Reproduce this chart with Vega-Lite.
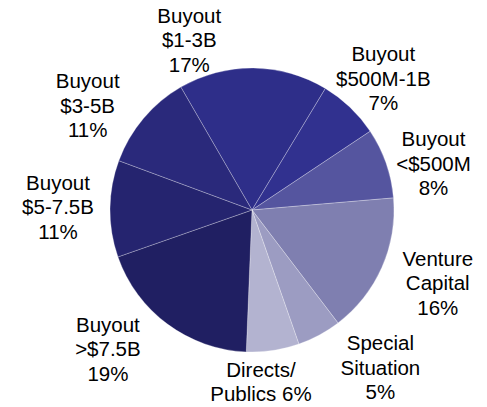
{
  "$schema": "https://vega.github.io/schema/vega-lite/v6.json",
  "width": 470,
  "height": 394,
  "padding": {"left": 17, "top": 13, "right": 0, "bottom": 0},
  "autosize": "none",
  "background": "white",
  "config": {"view": {"stroke": null}},
  "data": {
    "values": [
      {"idx": 1, "cat": "Buyout $1-3B", "value": 17, "label": "Buyout\n$1-3B\n17%"},
      {"idx": 2, "cat": "Buyout $500M-1B", "value": 7, "label": "Buyout\n$500M-1B\n7%"},
      {"idx": 3, "cat": "Buyout <$500M", "value": 8, "label": "Buyout\n<$500M\n8%"},
      {"idx": 4, "cat": "Venture Capital", "value": 16, "label": "Venture\nCapital\n16%"},
      {"idx": 5, "cat": "Special Situation", "value": 5, "label": "Special\nSituation\n5%"},
      {"idx": 6, "cat": "Directs/Publics", "value": 6, "label": "Directs/\nPublics 6%"},
      {"idx": 7, "cat": "Buyout >$7.5B", "value": 19, "label": "Buyout\n>$7.5B\n19%"},
      {"idx": 8, "cat": "Buyout $5-7.5B", "value": 11, "label": "Buyout\n$5-7.5B\n11%"},
      {"idx": 9, "cat": "Buyout $3-5B", "value": 11, "label": "Buyout\n$3-5B\n11%"}
    ]
  },
  "encoding": {
    "theta": {"field": "value", "type": "quantitative", "stack": true, "scale": {"range": [-0.525, 5.7582]}},
    "order": {"field": "idx", "type": "quantitative"}
  },
  "layer": [
    {
      "mark": {"type": "arc", "radius": 142, "stroke": "#ffffff", "strokeWidth": 0.6, "strokeOpacity": 0.45},
      "encoding": {
        "color": {
          "field": "cat",
          "type": "nominal",
          "legend": null,
          "scale": {
            "domain": ["Buyout $1-3B", "Buyout $500M-1B", "Buyout <$500M", "Venture Capital", "Special Situation", "Directs/Publics", "Buyout >$7.5B", "Buyout $5-7.5B", "Buyout $3-5B"],
            "range": ["#2e2e89", "#31318f", "#55559f", "#7f7fb0", "#9c9cc2", "#b3b3d0", "#201f62", "#25246f", "#2a297b"]
          }
        }
      }
    },
    {
      "mark": {"type": "text", "radius": 194, "dy": -24.5, "font": "Liberation Sans", "fontSize": 20.5, "lineHeight": 24.5, "lineBreak": "\n", "fill": "#000000", "baseline": "middle", "align": "center"},
      "encoding": {"text": {"condition": {"test": "datum.cat === 'Buyout $5-7.5B'", "field": "label"}, "value": ""}}
    },
    {
      "mark": {"type": "text", "radius": 185, "thetaOffset": 0.026, "dy": -24.5, "font": "Liberation Sans", "fontSize": 20.5, "lineHeight": 24.5, "lineBreak": "\n", "fill": "#000000", "baseline": "middle", "align": "center"},
      "encoding": {"text": {"condition": {"test": "datum.cat === 'Buyout $500M-1B'", "field": "label"}, "value": ""}}
    },
    {
      "mark": {"type": "text", "radius": 200, "thetaOffset": -0.038, "dy": -24.5, "font": "Liberation Sans", "fontSize": 20.5, "lineHeight": 24.5, "lineBreak": "\n", "fill": "#000000", "baseline": "middle", "align": "center"},
      "encoding": {"text": {"condition": {"test": "datum.cat === 'Venture Capital'", "field": "label"}, "value": ""}}
    },
    {
      "mark": {"type": "text", "radius": 187, "thetaOffset": 0.093, "dy": -24.5, "font": "Liberation Sans", "fontSize": 20.5, "lineHeight": 24.5, "lineBreak": "\n", "fill": "#000000", "baseline": "middle", "align": "center"},
      "encoding": {"text": {"condition": {"test": "datum.cat === 'Buyout <$500M'", "field": "label"}, "value": ""}}
    },
    {
      "mark": {"type": "text", "radius": 180, "thetaOffset": -0.365, "dy": -24.5, "font": "Liberation Sans", "fontSize": 20.5, "lineHeight": 24.5, "lineBreak": "\n", "fill": "#000000", "baseline": "middle", "align": "center"},
      "encoding": {"text": {"condition": {"test": "datum.cat === 'Buyout $1-3B'", "field": "label"}, "value": ""}}
    },
    {
      "mark": {"type": "text", "radius": 204, "thetaOffset": -0.187, "dy": -24.5, "font": "Liberation Sans", "fontSize": 20.5, "lineHeight": 24.5, "lineBreak": "\n", "fill": "#000000", "baseline": "middle", "align": "center"},
      "encoding": {"text": {"condition": {"test": "datum.cat === 'Special Situation'", "field": "label"}, "value": ""}}
    },
    {
      "mark": {"type": "text", "radius": 173, "thetaOffset": 0.096, "dy": -12.25, "font": "Liberation Sans", "fontSize": 20.5, "lineHeight": 24.5, "lineBreak": "\n", "fill": "#000000", "baseline": "middle", "align": "center"},
      "encoding": {"text": {"condition": {"test": "datum.cat === 'Directs/Publics'", "field": "label"}, "value": ""}}
    },
    {
      "mark": {"type": "text", "radius": 201, "thetaOffset": 0.162, "dy": -24.5, "font": "Liberation Sans", "fontSize": 20.5, "lineHeight": 24.5, "lineBreak": "\n", "fill": "#000000", "baseline": "middle", "align": "center"},
      "encoding": {"text": {"condition": {"test": "datum.cat === 'Buyout >$7.5B'", "field": "label"}, "value": ""}}
    },
    {
      "mark": {"type": "text", "radius": 194, "thetaOffset": -0.14, "dy": -24.5, "font": "Liberation Sans", "fontSize": 20.5, "lineHeight": 24.5, "lineBreak": "\n", "fill": "#000000", "baseline": "middle", "align": "center"},
      "encoding": {"text": {"condition": {"test": "datum.cat === 'Buyout $3-5B'", "field": "label"}, "value": ""}}
    }
  ]
}
